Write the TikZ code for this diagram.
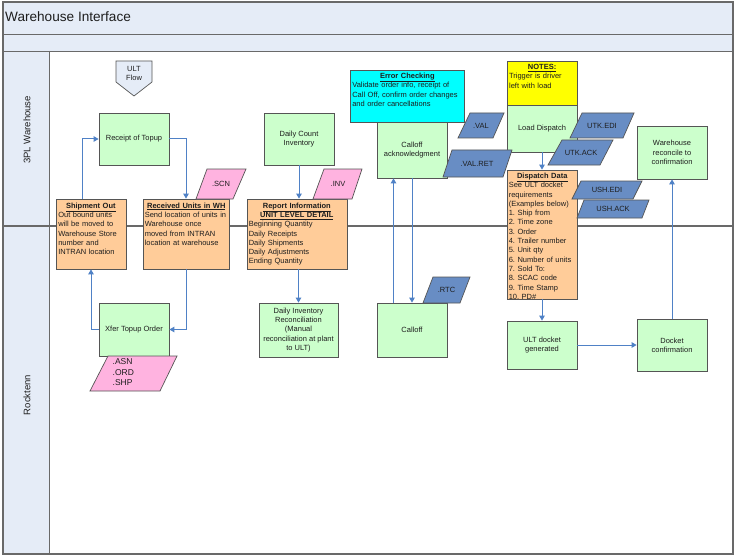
\documentclass[tikz,border=0pt]{standalone}
\usepackage{fontspec}
\setmainfont{Liberation Sans}
\usetikzlibrary{arrows.meta}
\definecolor{lane}{RGB}{229,236,247}
\definecolor{gfill}{RGB}{204,255,204}
\definecolor{ofill}{RGB}{255,204,153}
\definecolor{pfill}{RGB}{255,179,224}
\definecolor{bfill}{RGB}{104,141,196}
\definecolor{cfill}{RGB}{0,255,255}
\definecolor{yfill}{RGB}{255,255,0}
\definecolor{arr}{RGB}{79,129,198}
\definecolor{frm}{RGB}{105,105,105}
\definecolor{bord}{RGB}{85,85,85}
\definecolor{ink}{RGB}{30,30,30}
\frenchspacing
\begin{document}
\begin{tikzpicture}[x=1pt,y=-1pt,
  every node/.style={text=ink},
  box/.style={draw=bord, line width=0.8pt, align=center, inner sep=1pt,
    font=\fontsize{7.5}{9.3}\selectfont},
  gbox/.style={box, fill=gfill},
  obox/.style={box, fill=ofill},
  btxt/.style={font=\fontsize{7.5}{9.3}\selectfont, align=left, inner sep=0pt, anchor=base west},
  para/.style={draw=bord, line width=0.7pt},
  pinkp/.style={para, fill=pfill},
  bluep/.style={para, fill=bfill},
  ptext/.style={font=\fontsize{7.5}{9}\selectfont, inner sep=0pt},
  flow/.style={draw=arr, line width=1pt, -{Triangle[length=5pt,width=5.5pt]}}
]
\useasboundingbox (0,0) rectangle (735,556);
% background / swimlanes
\fill[white] (0,0) rectangle (735,556);
\fill[lane] (3,2) rectangle (733,51);
\fill[lane] (3,51) rectangle (49,554);
\draw[frm, line width=0.8pt] (3,34) -- (733,34);
\draw[frm, line width=0.8pt] (3,51) -- (733,51);
\draw[frm, line width=0.8pt] (49,51) -- (49,554);
\draw[frm, line width=1.5pt] (3,226) -- (733,226);
\draw[frm, line width=1.5pt] (3,2) rectangle (733,554);
\node[anchor=west, font=\fontsize{13.6}{15}\selectfont, inner sep=0pt] (title) at (5,17) {Warehouse Interface};
\node[rotate=90, font=\fontsize{9.5}{11}\selectfont, inner sep=0pt] (lane1) at (27,130) {3PL Warehouse};
\node[rotate=90, font=\fontsize{9.5}{11}\selectfont, inner sep=0pt] (lane2) at (27,395) {Rocktenn};

% ULT flow off-page connector
\draw[fill=lane, draw=bord, line width=0.7pt] (116,61) -- (152,61) -- (152,82) -- (134,96) -- (116,82) -- cycle;
\node[font=\fontsize{7.5}{9.3}\selectfont, align=center, inner sep=0pt] (ult) at (134,73.5) {ULT\\Flow};

% boxes
\node[gbox, minimum width=70pt, minimum height=52pt] (rt) at (134,139) {Receipt of Topup};
\node[obox, minimum width=70pt, minimum height=70pt] (so) at (91,234) {};
\node[obox, minimum width=86pt, minimum height=70pt] (ru) at (186,234) {};
\node[gbox, minimum width=70pt, minimum height=52pt] (dc) at (299,139) {Daily Count\\Inventory};
\node[obox, minimum width=100pt, minimum height=70pt] (ri) at (297,234) {};
\node[gbox, minimum width=70pt, minimum height=56pt] (ca) at (412,150) {Calloff\\acknowledgment};
\node[box, fill=cfill, minimum width=114pt, minimum height=52pt] (ec) at (407,96) {};
\node[gbox, minimum width=70pt, minimum height=54pt] (cf) at (412,330) {Calloff};
\node[box, fill=yfill, minimum width=70pt, minimum height=44pt] (nt) at (542,83) {};
\node[gbox, minimum width=70pt, minimum height=47pt] (ld) at (542,128.5) {Load Dispatch};
\node[obox, minimum width=70pt, minimum height=129pt] (dd) at (542,234.5) {};
\node[gbox, minimum width=70pt, minimum height=53pt] (wr) at (672,152.5) {Warehouse\\reconcile to\\confirmation};
\node[gbox, minimum width=70pt, minimum height=48pt] (ug) at (542,345) {ULT docket\\generated};
\node[gbox, minimum width=70pt, minimum height=52pt] (dcf) at (672,345) {Docket\\confirmation};
\node[gbox, minimum width=70pt, minimum height=53pt] (xt) at (134,329.5) {Xfer Topup Order};
\node[gbox, minimum width=79pt, minimum height=54pt] (dir) at (298.5,330) {Daily Inventory\\Reconciliation\\(Manual\\reconciliation at plant\\to ULT)};

% top-aligned texts
\node[btxt, text width=65pt] (so-t) at ([shift={(2.5,9.5)}]so.north west)
  {\makebox[\linewidth]{\underline{\textbf{Shipment Out}}}\\Out bound units\\will be moved to\\Warehouse Store\\number and\\INTRAN location};
\node[btxt, text width=83pt] (ru-t) at ([shift={(2,9.5)}]ru.north west)
  {\makebox[\linewidth]{\underline{\textbf{Received Units in WH}}}\\Send location of units in\\Warehouse once\\moved from INTRAN\\location at warehouse};
\node[btxt, text width=96pt] (ri-t) at ([shift={(2,9.5)}]ri.north west)
  {\makebox[\linewidth]{\underline{\textbf{Report Information}}}\\\makebox[\linewidth]{\underline{\textbf{UNIT LEVEL DETAIL}}}\\Beginning Quantity\\Daily Receipts\\Daily Shipments\\Daily Adjustments\\Ending Quantity};
\node[btxt, text width=110pt] (ec-t) at ([shift={(2.5,9)}]ec.north west)
  {\makebox[\linewidth]{\underline{\textbf{Error Checking}}}\\Validate order info, receipt of\\Call Off, confirm order changes\\and order cancellations};
\node[btxt, text width=66pt] (nt-t) at ([shift={(2.3,9)}]nt.north west)
  {\makebox[\linewidth]{\underline{\textbf{NOTES:}}}\\Trigger is driver\\left with load};
\node[btxt, text width=67pt] (dd-t) at ([shift={(2,8.8)}]dd.north west)
  {\makebox[\linewidth]{\underline{\textbf{Dispatch Data}}}\\See ULT docket\\requirements\\(Examples below)\\1. Ship from\\2. Time zone\\3. Order\\4. Trailer number\\5. Unit qty\\6. Number of units\\7. Sold To:\\8. SCAC code\\9. Time Stamp\\10. PD\#};

% arrows
\draw[flow] ([xshift=-9pt]so.north) |- (rt.west);
\draw[flow] (rt.east) -| (ru.north);
\draw[flow] (ru.south) |- (xt.east);
\draw[flow] (xt.west) -| (so.south);
\draw[flow] (dc.south) -- (dc.south |- ri.north);
\draw[flow] (dir.north |- ri.south) -- (dir.north);
\draw[flow] ([xshift=-18.5pt]cf.north) -- ([xshift=-18.5pt]ca.south);
\draw[flow] (ca.south) -- (cf.north);
\draw[flow] (ld.south) -- (dd.north);
\draw[flow] (dd.south) -- (ug.north);
\draw[flow] (ug.east) -- (ug.east -| dcf.west);
\draw[flow] (dcf.north) -- (wr.south);

% data parallelograms
\draw[pinkp] (207,169) -- (246,169) -- (233,199) -- (196,199) -- cycle;
\node[ptext] (scn) at (221,184) {.SCN};
\draw[pinkp] (324,169) -- (362,169) -- (352,199) -- (313,199) -- cycle;
\node[ptext] (inv) at (338,184) {.INV};
\draw[bluep] (470,113) -- (504,113) -- (493,138) -- (458,138) -- cycle;
\node[ptext] (val) at (481,125.5) {.VAL};
\draw[bluep] (452,150) -- (512,150) -- (503,177) -- (443,177) -- cycle;
\node[ptext] (valret) at (477,163.5) {.VAL.RET};
\draw[bluep] (433,277) -- (470,277) -- (460,303) -- (423,303) -- cycle;
\node[ptext] (rtc) at (446.5,290) {.RTC};
\draw[bluep] (582,113) -- (634,113) -- (623,138) -- (570,138) -- cycle;
\node[ptext] (utkedi) at (602,125.5) {UTK.EDI};
\draw[bluep] (562,140) -- (613,140) -- (600,165) -- (548,165) -- cycle;
\node[ptext] (utkack) at (581,152.5) {UTK.ACK};
\draw[bluep] (581,181) -- (642,181) -- (633,199) -- (572,199) -- cycle;
\node[ptext] (ushedi) at (607,190) {USH.EDI};
\draw[bluep] (584,200) -- (649,200) -- (642,218) -- (577,218) -- cycle;
\node[ptext] (ushack) at (613,209) {USH.ACK};
\draw[pinkp] (108,356) -- (177,356) -- (160,391) -- (90,391) -- cycle;
\node[font=\fontsize{8.5}{10.5}\selectfont, align=left, inner sep=0pt, anchor=base west, text width=40pt] (asn) at (112.5,364.8) {.ASN\\.ORD\\.SHP};
\end{tikzpicture}
\end{document}
